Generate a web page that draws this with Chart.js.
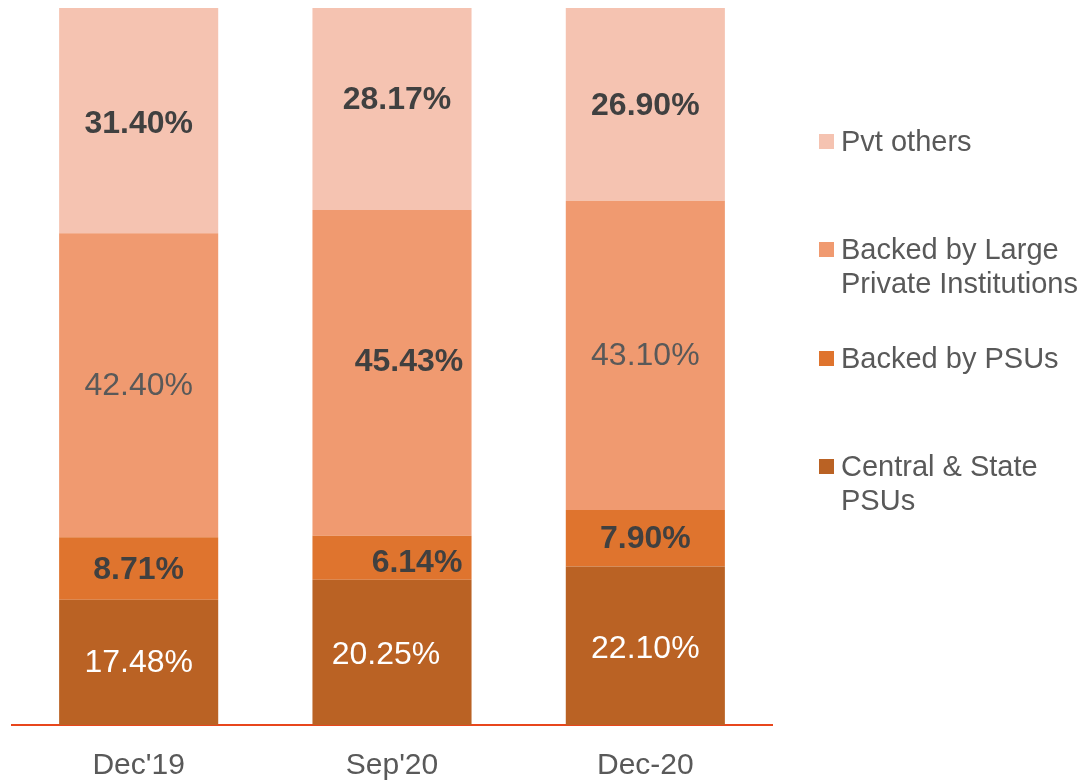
<!DOCTYPE html>
<html>
<head>
<meta charset="utf-8">
<script src="https://cdn.jsdelivr.net/npm/chart.js@4.4.0/dist/chart.umd.min.js"></script>
<style>
  body { margin: 0; background: #fff; }
  #wrap { position: relative; width: 1084px; height: 781px; overflow: hidden; }
  #legend { position: absolute; left: 0; top: 0; font-family: "Liberation Sans", Arial, sans-serif; font-size: 29px; color: #595959; }
  .item { position: absolute; left: 819px; line-height: 34px; white-space: nowrap; }
  .sw { position: absolute; left: 0; top: 10px; width: 15px; height: 15px; }
  .txt { position: absolute; left: 22px; top: 0; }
</style>
</head>
<body>
<div id="wrap">
  <canvas id="grafico" width="1084" height="807"></canvas>
  <div id="legend"></div>
</div>
<script>
// dados
var periodos = ["Dec'19", "Sep'20", "Dec-20"];
var centralState = [17.48, 20.25, 22.10];
var backedPSUs = [8.71, 6.14, 7.90];
var backedLarge = [42.40, 45.43, 43.10];
var pvtOthers = [31.40, 28.17, 26.90];

// estilos (de baixo para cima)
var series = [
    { nome: ["Central & State", "PSUs"], dados: centralState, cor: '#BA6224' },
    { nome: ["Backed by PSUs"], dados: backedPSUs, cor: '#DF742E' },
    { nome: ["Backed by Large", "Private Institutions"], dados: backedLarge, cor: '#F09A70' },
    { nome: ["Pvt others"], dados: pvtOthers, cor: '#F5C3B1' }
];
// estilo de cada rotulo: [negrito, cor, dx, dy]
var rotulos = [
    [[false, '#ffffff', 0, 1], [false, '#ffffff', -6, 3], [false, '#ffffff', 0, 3]],
    [[true, '#404040', 0, 2], [true, '#404040', 25, 5], [true, '#404040', 0, 1]],
    [[false, '#595959', 0, 1], [true, '#404040', 17, -11], [false, '#595959', 0, 1]],
    [[true, '#404040', 0, 4], [true, '#404040', 5, -9], [true, '#404040', 0, 2]]
];

var pluginRotulos = {
    id: 'rotulos',
    afterDatasetsDraw: function(chart) {
        var ctx = chart.ctx;
        chart.data.datasets.forEach(function(ds, i) {
            var meta = chart.getDatasetMeta(i);
            meta.data.forEach(function(bar, j) {
                var st = rotulos[i][j];
                ctx.save();
                ctx.font = (st[0] ? 'bold ' : '') + '32px "Liberation Sans", Arial, sans-serif';
                ctx.fillStyle = st[1];
                ctx.textAlign = 'center';
                ctx.textBaseline = 'middle';
                ctx.fillText(ds.data[j].toFixed(2) + '%', bar.x + st[2], (bar.y + bar.base) / 2 + st[3]);
                ctx.restore();
            });
        });
    }
};

var c = document.getElementById("grafico");
var ctx = c.getContext("2d");
var chart = new Chart(ctx, {
    type: 'bar',
    data: {
        labels: periodos,
        datasets: series.map(function(s) {
            return {
                label: s.nome.join(' '),
                data: s.dados,
                backgroundColor: s.cor,
                borderWidth: 0,
                categoryPercentage: 1,
                barPercentage: 0.628
            };
        })
    },
    options: {
        responsive: false,
        animation: false,
        layout: { padding: { left: 12, right: 312, top: 8, bottom: 0 } },
        plugins: { legend: { display: false }, tooltip: { enabled: false } },
        scales: {
            x: {
                stacked: true,
                grid: { display: false, drawTicks: false },
                border: { display: true, color: '#E8461C', width: 2 },
                ticks: {
                    padding: 23,
                    color: '#595959',
                    font: { family: '"Liberation Sans", Arial, sans-serif', size: 30 }
                }
            },
            y: { stacked: true, display: false, min: 0, max: 100 }
        }
    },
    plugins: [pluginRotulos]
});

// legenda
var leg = document.getElementById('legend');
series.slice().reverse().forEach(function(s, i) {
    var d = document.createElement('div');
    d.className = 'item';
    d.style.top = (124 + i * 108.3) + 'px';
    d.innerHTML = '<span class="sw" style="background:' + s.cor + '"></span><span class="txt">' +
        s.nome.join('<br>').replace('&', '&amp;') + '</span>';
    leg.appendChild(d);
});
</script>
</body>
</html>
